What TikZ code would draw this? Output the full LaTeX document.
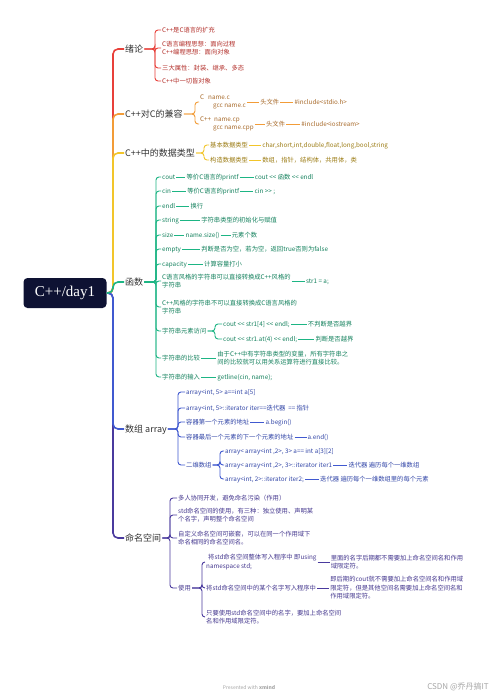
\documentclass[tikz,border=0pt]{standalone}
\usepackage{fontspec}
\setmainfont{Noto Sans CJK SC}
\newfontfamily\rootfont{Liberation Serif}
\usetikzlibrary{positioning}

\definecolor{rootbg}{HTML}{0E1233}
\definecolor{lnA}{HTML}{E8403A}
\definecolor{txA}{HTML}{B3302B}
\definecolor{lnB}{HTML}{F29C38}
\definecolor{txB}{HTML}{A86A2A}
\definecolor{lnC}{HTML}{F2C52A}
\definecolor{txC}{HTML}{9C7C14}
\definecolor{lnD}{HTML}{1DB584}
\definecolor{txD}{HTML}{15825E}
\definecolor{lnE}{HTML}{4059D0}
\definecolor{txE}{HTML}{3347A8}
\definecolor{lnF}{HTML}{4A3A9E}
\definecolor{txF}{HTML}{45388F}

\newcommand\shl{<\kern0pt<}
\newcommand\shr{>\kern0pt>}

\begin{document}
\begin{tikzpicture}[x=1pt, y=-1pt,
    % Node styles
    root/.style={
        rectangle, rounded corners=4pt, fill=rootbg, text=white,
        minimum width=83pt, minimum height=30pt,
        font=\rootfont\fontsize{15}{15}\selectfont
    },
    topic/.style={
        anchor=west, inner sep=1pt, text=black!80,
        text height=7.4pt, text depth=0.6pt,
        font=\fontsize{9}{10}\selectfont
    },
    leafbase/.style={
        anchor=west, inner sep=1pt,
        font=\fontsize{6.3}{8.5}\selectfont
    },
    leaf/.style={
        leafbase, text height=5.5pt, text depth=0.3pt
    },
    para/.style={
        leafbase, align=left
    },
    wmark/.style={
        inner sep=0pt, text=black!35
    },
    % Line styles
    trunk/.style={line width=1.6pt, rounded corners=5pt},
    branch/.style={line width=0.9pt, rounded corners=3pt},
    link/.style={line width=0.8pt}
]
\useasboundingbox[fill=white] (0,0) rectangle (500,699);

% --- Root and main topics ---
\node[root] (root) at (65,293) {C++/day1};
\coordinate (hub) at (113,293);

\node[topic] (intro) at (124,49) {绪论};
\node[topic] (compat) at (124,114) {C++对C的兼容};
\node[topic] (dtype) at (124,153) {C++中的数据类型};
\node[topic] (func) at (124,282) {函数};
\node[topic] (arr) at (124,429) {数组 array};
\node[topic] (ns) at (124,538) {命名空间};

\draw[trunk, lnA] (root.east) -- (hub) |- (intro.west);
\draw[trunk, lnB] (root.east) -- (hub) |- (compat.west);
\draw[trunk, lnC] (root.east) -- (hub) |- (dtype.west);
\draw[trunk, lnF] (root.east) -- (hub) |- (ns.west);
\draw[trunk, lnE] (root.east) -- (hub) |- (arr.west);
\draw[trunk, lnD] (root.east) -- (hub) |- (func.west);

% --- 绪论 ---
\begin{scope}[leafbase/.append style={text=txA}]
\coordinate (intro-j) at (155,49);
\node[leaf] (intro1) at (161,30) {C++是C语言的扩充};
\node[para] (intro2) at (161,48) {C语言编程思想：面向过程\\C++编程思想：面向对象};
\node[leaf] (intro3) at (161,68) {三大属性：封装、继承、多态};
\node[leaf] (intro4) at (161,81) {C++中一切皆对象};
\draw[branch, lnA] (intro.east) -- (intro-j) |- (intro1.west);
\draw[branch, lnA] (intro.east) -- (intro-j) |- (intro2.west);
\draw[branch, lnA] (intro.east) -- (intro-j) |- (intro3.west);
\draw[branch, lnA] (intro.east) -- (intro-j) |- (intro4.west);
\end{scope}

% --- C++对C的兼容 ---
\begin{scope}[leafbase/.append style={text=txB}]
\coordinate (compat-j) at (195,114);
\node[para] (cfile) at (199,102) {C\hspace{4pt}name.c\\\hspace*{13pt}gcc name.c};
\node[leaf, right=12pt of cfile] (cfile-h) {头文件};
\node[leaf, right=13pt of cfile-h] (cfile-i) {\#include<stdio.h>};
\node[para] (cppfile) at (199,124) {C++\hspace{3pt}name.cp\\\hspace*{13pt}gcc name.cpp};
\node[leaf, right=10pt of cppfile] (cppfile-h) {头文件};
\node[leaf, right=14pt of cppfile-h] (cppfile-i) {\#include<iostream>};
\draw[branch, lnB] (compat.east) -- (compat-j) |- (cfile.west);
\draw[branch, lnB] (compat.east) -- (compat-j) |- (cppfile.west);
\draw[link, lnB] (cfile.east) -- (cfile-h.west);
\draw[link, lnB] (cfile-h.east) -- (cfile-i.west);
\draw[link, lnB] (cppfile.east) -- (cppfile-h.west);
\draw[link, lnB] (cppfile-h.east) -- (cppfile-i.west);
\end{scope}

% --- C++中的数据类型 ---
\begin{scope}[leafbase/.append style={text=txC}]
\coordinate (dtype-j) at (204,153);
\node[leaf] (basic) at (209,145) {基本数据类型};
\node[leaf, right=12pt of basic] (basic-l) {char,short,int,double,float,long,bool,string};
\node[leaf] (built) at (209,160) {构造数据类型};
\node[leaf, right=12pt of built] (built-l) {数组，指针，结构体，共用体，类};
\draw[branch, lnC] (dtype.east) -- (dtype-j) |- (basic.west);
\draw[branch, lnC] (dtype.east) -- (dtype-j) |- (built.west);
\draw[link, lnC] (basic.east) -- (basic-l.west);
\draw[link, lnC] (built.east) -- (built-l.west);
\end{scope}

% --- 函数 ---
\begin{scope}[leafbase/.append style={text=txD}]
\coordinate (func-j) at (156,282);
\node[leaf] (f1) at (161,177) {cout};
\node[leaf, right=9pt of f1] (f1a) {等价C语言的printf};
\node[leaf, right=14pt of f1a] (f1b) {cout \shl{} 函数 \shl{} endl};
\node[leaf] (f2) at (161,191) {cin};
\node[leaf, right=14pt of f2] (f2a) {等价C语言的printf};
\node[leaf, right=13pt of f2a] (f2b) {cin \shr{} ;};
\node[leaf] (f3) at (161,206) {endl};
\node[leaf, right=13pt of f3] (f3a) {换行};
\node[leaf] (f4) at (161,220) {string};
\node[leaf, right=20pt of f4] (f4a) {字符串类型的初始化与赋值};
\node[leaf] (f5) at (161,235) {size};
\node[leaf, right=10pt of f5] (f5a) {name.size()};
\node[leaf, right=10pt of f5a] (f5b) {元素个数};
\node[leaf] (f6) at (161,249) {empty};
\node[leaf, right=18pt of f6] (f6a) {判断是否为空，若为空，返回true否则为false};
\node[leaf] (f7) at (161,264) {capacity};
\node[leaf, right=15pt of f7] (f7a) {计算容量打小};
\node[para] (f8) at (161,281) {C语言风格的字符串可以直接转换成C++风格的\\字符串};
\node[leaf, right=13pt of f8] (f8a) {str1 = a;};
\node[para] (f9) at (161,307) {C++风格的字符串不可以直接转换成C语言风格的\\字符串};
\node[leaf] (f10) at (161,331) {字符串元素访问};
\coordinate (f10-j) at (215,331);
\node[leaf] (f10a) at (222,324) {cout \shl{} str1[4] \shl{} endl;};
\node[leaf, right=16pt of f10a] (f10b) {不判断是否越界};
\node[leaf] (f10c) at (222,339) {cout \shl{} str1.at(4) \shl{} endl;};
\node[leaf, right=16pt of f10c] (f10d) {判断是否越界};
\node[leaf] (f11) at (161,358) {字符串的比较};
\node[para, right=15pt of f11] (f11a) {由于C++中有字符串类型的变量，所有字符串之\\间的比较就可以用关系运算符进行直接比较。};
\node[leaf] (f12) at (161,377) {字符串的输入};
\node[leaf, right=15pt of f12] (f12a) {getline(cin, name);};

\draw[branch, lnD] (func.east) -- (func-j) |- (f1.west);
\draw[branch, lnD] (func.east) -- (func-j) |- (f2.west);
\draw[branch, lnD] (func.east) -- (func-j) |- (f3.west);
\draw[branch, lnD] (func.east) -- (func-j) |- (f4.west);
\draw[branch, lnD] (func.east) -- (func-j) |- (f5.west);
\draw[branch, lnD] (func.east) -- (func-j) |- (f6.west);
\draw[branch, lnD] (func.east) -- (func-j) |- (f7.west);
\draw[branch, lnD] (func.east) -- (func-j) |- (f8.west);
\draw[branch, lnD] (func.east) -- (func-j) |- (f9.west);
\draw[branch, lnD] (func.east) -- (func-j) |- (f10.west);
\draw[branch, lnD] (func.east) -- (func-j) |- (f11.west);
\draw[branch, lnD] (func.east) -- (func-j) |- (f12.west);
\draw[branch, lnD] (f10.east) -- (f10-j) |- (f10a.west);
\draw[branch, lnD] (f10.east) -- (f10-j) |- (f10c.west);

\draw[link, lnD] (f1.east) -- (f1a.west);
\draw[link, lnD] (f1a.east) -- (f1b.west);
\draw[link, lnD] (f2.east) -- (f2a.west);
\draw[link, lnD] (f2a.east) -- (f2b.west);
\draw[link, lnD] (f3.east) -- (f3a.west);
\draw[link, lnD] (f4.east) -- (f4a.west);
\draw[link, lnD] (f5.east) -- (f5a.west);
\draw[link, lnD] (f5a.east) -- (f5b.west);
\draw[link, lnD] (f6.east) -- (f6a.west);
\draw[link, lnD] (f7.east) -- (f7a.west);
\draw[link, lnD] (f8.east) -- (f8a.west);
\draw[link, lnD] (f10a.east) -- (f10b.west);
\draw[link, lnD] (f10c.east) -- (f10d.west);
\draw[link, lnD] (f11.east) -- (f11a.west);
\draw[link, lnD] (f12.east) -- (f12a.west);
\end{scope}

% --- 数组 array ---
\begin{scope}[leafbase/.append style={text=txE}]
\coordinate (arr-j) at (178,429);
\node[leaf] (arr1) at (185,392) {array<int, 5> a==int a[5]};
\node[leaf] (arr2) at (185,408) {array<int, 5>::iterator iter==迭代器\ \ == 指针};
\node[leaf] (arr3) at (185,422) {容器第一个元素的地址};
\node[leaf, right=14pt of arr3] (arr3a) {a.begin()};
\node[leaf] (arr4) at (185,437) {容器最后一个元素的下一个元素的地址};
\node[leaf, right=12pt of arr4] (arr4a) {a.end()};
\node[leaf] (arr5) at (185,465) {二维数组};
\coordinate (arr5-j) at (220,465);
\node[leaf] (arr5a) at (224,451) {array< array<int ,2>, 3> a== int a[3][2]};
\node[leaf] (arr5b) at (224,465) {array< array<int ,2>, 3>::iterator iter1};
\node[leaf, right=14pt of arr5b] (arr5bb) {迭代器 遍历每个一维数组};
\node[leaf] (arr5c) at (224,479) {array<int, 2>::iterator iter2;};
\node[leaf, right=14pt of arr5c] (arr5cc) {迭代器 遍历每个一维数组里的每个元素};

\draw[branch, lnE] (arr.east) -- (arr-j) |- (arr1.west);
\draw[branch, lnE] (arr.east) -- (arr-j) |- (arr2.west);
\draw[branch, lnE] (arr.east) -- (arr-j) |- (arr3.west);
\draw[branch, lnE] (arr.east) -- (arr-j) |- (arr4.west);
\draw[branch, lnE] (arr.east) -- (arr-j) |- (arr5.west);
\draw[branch, lnE] (arr5.east) -- (arr5-j) |- (arr5a.west);
\draw[branch, lnE] (arr5.east) -- (arr5-j) |- (arr5b.west);
\draw[branch, lnE] (arr5.east) -- (arr5-j) |- (arr5c.west);
\draw[link, lnE] (arr3.east) -- (arr3a.west);
\draw[link, lnE] (arr4.east) -- (arr4a.west);
\draw[link, lnE] (arr5b.east) -- (arr5bb.west);
\draw[link, lnE] (arr5c.east) -- (arr5cc.west);
\end{scope}

% --- 命名空间 ---
\begin{scope}[leafbase/.append style={text=txF}]
\coordinate (ns-j) at (170,538);
\node[leaf] (ns1) at (177,498) {多人协同开发，避免命名污染（作用）};
\node[para] (ns2) at (177,515) {std命名空间的使用，有三种：独立使用、声明某\\个名字，声明整个命名空间};
\node[para] (ns3) at (177,538) {自定义命名空间可嵌套，可以在同一个作用域下\\命名相同的命名空间名。};
\node[leaf] (ns4) at (177,588) {使用};
\coordinate (ns4-j) at (202,588);
\node[para] (use1) at (205,562) {\hspace*{2pt}将std命名空间整体写入程序中 即using\\namespace std;};
\node[para, right=12pt of use1] (use1a) {里面的名字后期都不需要加上命名空间名和作用\\域限定符。};
\node[leaf] (use2) at (205,588) {将std命名空间中的某个名字写入程序中};
\node[para, right=12pt of use2] (use2a) {即后期的cout就不需要加上命名空间名和作用域\\限定符，但是其他空间名需要加上命名空间名和\\作用域限定符。};
\node[para] (use3) at (205,617) {只要使用std命名空间中的名字，要加上命名空间\\名和作用域限定符。};

\draw[branch, lnF] (ns.east) -- (ns-j) |- (ns1.west);
\draw[branch, lnF] (ns.east) -- (ns-j) |- (ns2.west);
\draw[branch, lnF] (ns.east) -- (ns-j) |- (ns3.west);
\draw[branch, lnF] (ns.east) -- (ns-j) |- (ns4.west);
\draw[branch, lnF] (ns4.east) -- (ns4-j) |- (use1.west);
\draw[branch, lnF] (ns4.east) -- (ns4-j) |- (use2.west);
\draw[branch, lnF] (ns4.east) -- (ns4-j) |- (use3.west);
\draw[link, lnF] (use1.east) -- (use1a.west);
\draw[link, lnF] (use2.east) -- (use2a.west);
\end{scope}

% --- Footer ---
\node[wmark, font=\fontsize{5}{6}\selectfont] (credit) at (249,687) {Presented with \textbf{xmind}};
\node[wmark, font=\fontsize{8}{9}\selectfont] (csdn) at (458,687) {CSDN @乔丹搞IT};

\end{tikzpicture}
\end{document}
